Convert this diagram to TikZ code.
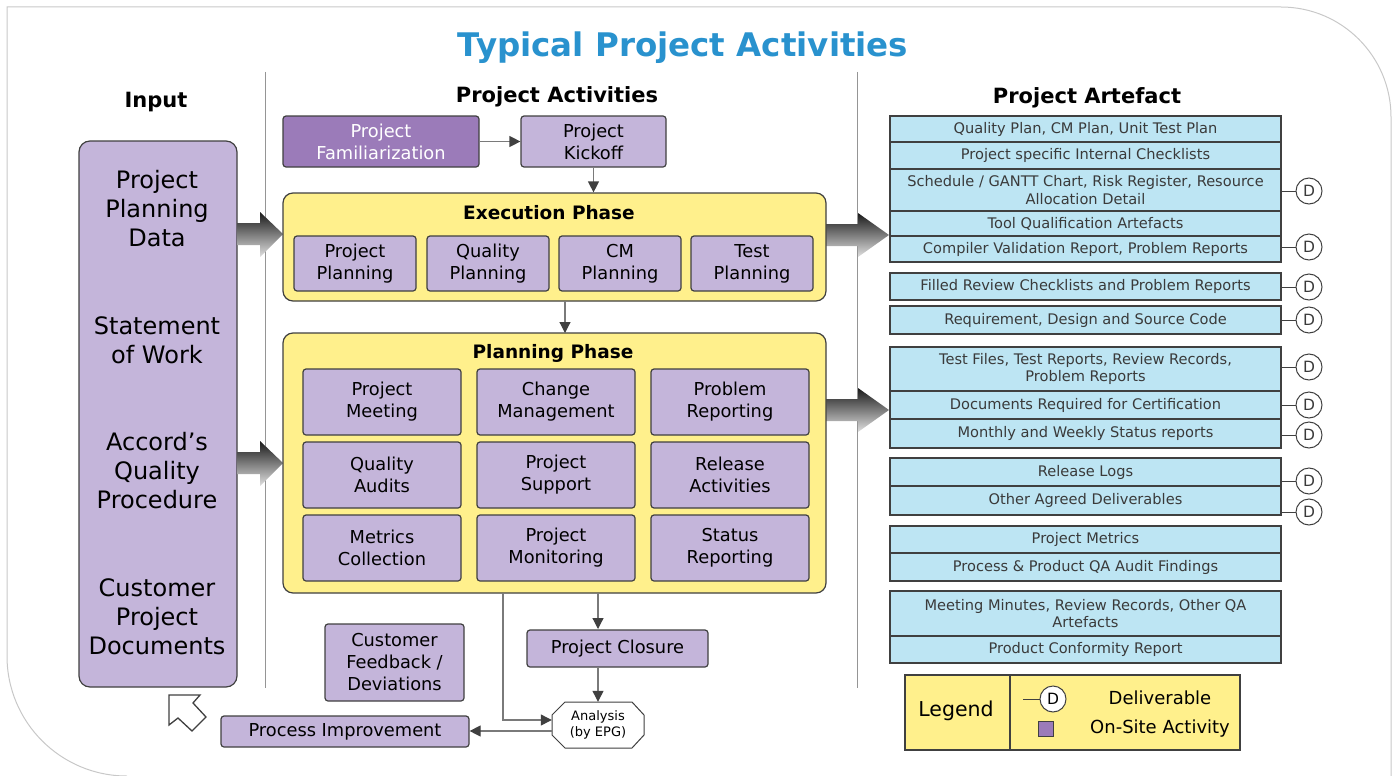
\documentclass[tikz,border=0pt]{standalone}
\usepackage{fontspec}
\setmainfont{DejaVu Sans}
\usetikzlibrary{arrows.meta}

\definecolor{edge}{HTML}{404040}
\definecolor{linegray}{HTML}{7A7A7A}
\definecolor{framegray}{HTML}{C8C8C8}
\definecolor{lav}{HTML}{C4B5DA}
\definecolor{lavdark}{HTML}{9B7BB9}
\definecolor{phaseyel}{HTML}{FFF08C}
\definecolor{artblue}{HTML}{BDE5F3}
\definecolor{titleblue}{HTML}{2992CE}
\definecolor{arttext}{HTML}{3A3A3A}

\tikzset{
  actbox/.style={draw=edge, line width=1.2pt, rounded corners=3pt, fill=lav,
    align=center, inner sep=0pt, font=\fontsize{17.8}{22}\selectfont},
  phasebox/.style={draw=edge, line width=1.2pt, rounded corners=10pt, fill=phaseyel, inner sep=0pt},
  phasetitle/.style={font=\fontsize{18.5}{22}\selectfont\bfseries},
  header/.style={font=\fontsize{21}{25}\selectfont\bfseries},
  inputtext/.style={align=center, font=\fontsize{24}{29}\selectfont},
  artbox/.style={draw=edge, line width=1.2pt, fill=artblue, minimum width=391pt,
    align=center, inner sep=0pt, text=arttext, font=\fontsize{14.6}{17.5}\selectfont},
  deliv/.style={circle, draw=edge, line width=1pt, fill=white, minimum size=26pt,
    inner sep=0pt, text=arttext, font=\fontsize{15.5}{15.5}\selectfont},
  dline/.style={draw=edge, line width=1pt},
  conn/.style={draw=linegray, line width=1.2pt, -{Triangle[length=11pt,width=11pt,color=edge]}},
  bigarrow/.style={top color=black!90, bottom color=black!12},
  sepline/.style={draw=linegray!80, line width=1pt}
}

\begin{document}
\begin{tikzpicture}[x=1pt,y=-1pt]
  \useasboundingbox (0,0) rectangle (1397,776);

  % outer frame
  \draw [framegray, line width=1pt] (1391,776) -- (1391,117) arc[start angle=0,end angle=-90,radius=110]
    -- (7,7) -- (7,656) arc[start angle=180,end angle=90,radius=120];

  % headings
  \node [font=\fontsize{32.5}{38}\selectfont\bfseries, text=titleblue] at (683,48) (Title) {Typical Project Activities};
  \node [header] at (156,102) (InHead)  {Input};
  \node [header] at (557,97)  (ActHead) {Project Activities};
  \node [header] at (1087,98) (ArtHead) {Project Artefact};

  \draw [sepline] (265,72) -- (265,688);
  \draw [sepline] (857,72) -- (857,688);

  % input column
  \node [draw=edge, line width=1.2pt, rounded corners=11pt, fill=lav, minimum width=158pt,
         minimum height=546pt, inner sep=0pt] at (158,414) (Input) {};
  \node [inputtext] at (157,209) (InPlan)  {Project\\Planning\\Data};
  \node [inputtext] at (157,340) (InSow)   {Statement\\of Work};
  \node [inputtext] at (157,471) (InQual)  {Accord’s\\Quality\\Procedure};
  \node [inputtext] at (157,617) (InCust)  {Customer\\Project\\Documents};

  % block arrows
  \shade [bigarrow] (237,223) -- (260,223) -- (260,212) -- (283,234) -- (260,257) -- (260,245) -- (237,245) -- cycle;
  \shade [bigarrow] (237,452) -- (260,452) -- (260,441) -- (283,463) -- (260,486) -- (260,474) -- (237,474) -- cycle;
  \shade [bigarrow] (826,224) -- (858,224) -- (858,213) -- (889,235) -- (858,257) -- (858,246) -- (826,246) -- cycle;
  \shade [bigarrow] (826,399) -- (858,399) -- (858,388) -- (889,410) -- (858,432) -- (858,421) -- (826,421) -- cycle;

  % top row
  \node [actbox, fill=lavdark, text=white, minimum width=196pt, minimum height=51pt] at (381,141.5) (Famil) {Project\\Familiarization};
  \node [actbox, minimum width=145pt, minimum height=51pt] at (593.5,141.5) (Kickoff) {Project\\Kickoff};
  \draw [conn] (Famil) -- (Kickoff);

  % execution phase
  \node [phasebox, minimum width=543pt, minimum height=108pt] at (554.5,247) (Exec) {};
  \node [phasetitle] at (549,213) (ExecTitle) {Execution Phase};
  \node [actbox, minimum width=122pt, minimum height=55pt] at (355,263.5) (ProjPlan) {Project\\Planning};
  \node [actbox, minimum width=122pt, minimum height=55pt] at (488,263.5) (QualPlan) {Quality\\Planning};
  \node [actbox, minimum width=122pt, minimum height=55pt] at (620,263.5) (CMPlan)   {CM\\Planning};
  \node [actbox, minimum width=122pt, minimum height=55pt] at (752,263.5) (TestPlan) {Test\\Planning};
  \draw [conn] (Kickoff.south) -- (Exec.north -| Kickoff.south);

  % planning phase
  \node [phasebox, minimum width=543pt, minimum height=260pt] at (554.5,463) (Planning) {};
  \node [phasetitle] at (553,353) (PlanTitle) {Planning Phase};
  \draw [conn] (565,301) -- (565,333);

  \node [actbox, minimum width=158pt, minimum height=66pt] at (382,402) (Meeting)  {Project\\Meeting};
  \node [actbox, minimum width=158pt, minimum height=66pt] at (556,402) (Change)   {Change\\Management};
  \node [actbox, minimum width=158pt, minimum height=66pt] at (730,402) (Problem)  {Problem\\Reporting};
  \node [actbox, minimum width=158pt, minimum height=66pt] at (382,475) (Audits)   {Quality\\Audits};
  \node [actbox, minimum width=158pt, minimum height=66pt] at (556,475) (Support)  {Project\\Support};
  \node [actbox, minimum width=158pt, minimum height=66pt] at (730,475) (Release)  {Release\\Activities};
  \node [actbox, minimum width=158pt, minimum height=66pt] at (382,548) (Metrics)  {Metrics\\Collection};
  \node [actbox, minimum width=158pt, minimum height=66pt] at (556,548) (Monitor)  {Project\\Monitoring};
  \node [actbox, minimum width=158pt, minimum height=66pt] at (730,548) (Status)   {Status\\Reporting};

  % closure and analysis
  \node [actbox, minimum width=181pt, minimum height=37pt] at (617.5,648.5) (Closure) {Project Closure};
  \node [actbox, minimum width=139pt, minimum height=77pt] at (394.5,662.5) (Feedback) {Customer\\Feedback /\\Deviations};
  \node [actbox, minimum width=248pt, minimum height=31pt] at (345,731.5) (Improve) {Process Improvement};
  \draw [edge, line width=1pt, fill=white] (565,702) -- (632,702) -- (644,715) -- (644,735) -- (632,748)
    -- (565,748) -- (552,735) -- (552,715) -- cycle;
  \node [minimum width=92pt, minimum height=46pt, inner sep=0pt, align=center,
         font=\fontsize{13}{15.5}\selectfont] at (598,725) (Analysis) {Analysis\\(by EPG)};

  \draw [conn] (598,593) -- (598,629);
  \draw [conn] (Closure.south -| 598,0) -- (Analysis.north);
  \draw [conn] (503,593) -- (503,720) -- (Analysis.west |- 0,720);
  \draw [conn] (Analysis.west |- 0,731) -- (Improve.east |- 0,731);

  % hollow arrow
  \draw [edge, line width=1.3pt, fill=white] (169,695) -- (200,695) -- (193,703) -- (206,717)
    -- (192,731) -- (178,718) -- (169,725) -- cycle;

  % artefacts
  \node [artbox, minimum height=26pt] at (1085.5,129)   (QPlan)    {Quality Plan, CM Plan, Unit Test Plan};
  \node [artbox, minimum height=27pt] at (1085.5,155.5) (Checks)   {Project specific Internal Checklists};
  \node [artbox, minimum height=42pt] at (1085.5,190)   (Sched)    {Schedule / GANTT Chart, Risk Register, Resource\\Allocation Detail};
  \node [artbox, minimum height=25pt] at (1085.5,223.5) (ToolQ)    {Tool Qualification Artefacts};
  \node [artbox, minimum height=26pt] at (1085.5,249)   (Compiler) {Compiler Validation Report, Problem Reports};
  \node [artbox, minimum height=27pt] at (1085.5,286.5) (Filled)   {Filled Review Checklists and Problem Reports};
  \node [artbox, minimum height=28pt] at (1085.5,320)   (ReqDes)   {Requirement, Design and Source Code};
  \node [artbox, minimum height=44pt] at (1085.5,369)   (TestF)    {Test Files, Test Reports, Review Records,\\Problem Reports};
  \node [artbox, minimum height=28pt] at (1085.5,405)   (DocsCert) {Documents Required for Certification};
  \node [artbox, minimum height=29pt] at (1085.5,433.5) (Monthly)  {Monthly and Weekly Status reports};
  \node [artbox, minimum height=28pt] at (1085.5,472)   (RelLogs)  {Release Logs};
  \node [artbox, minimum height=29pt] at (1085.5,500.5) (OtherDel) {Other Agreed Deliverables};
  \node [artbox, minimum height=27pt] at (1085.5,539.5) (PMetrics) {Project Metrics};
  \node [artbox, minimum height=28pt] at (1085.5,567)   (QAFind)   {Process \& Product QA Audit Findings};
  \node [artbox, minimum height=45pt] at (1085.5,613.5) (Minutes)  {Meeting Minutes, Review Records, Other QA\\Artefacts};
  \node [artbox, minimum height=27pt] at (1085.5,649.5) (Conform)  {Product Conformity Report};

  % deliverable markers
  \node [deliv] at (1309,191) (D1) {D};
  \node [deliv] at (1309,247) (D2) {D};
  \node [deliv] at (1309,287) (D3) {D};
  \node [deliv] at (1309,320) (D4) {D};
  \node [deliv] at (1309,367) (D5) {D};
  \node [deliv] at (1309,405) (D6) {D};
  \node [deliv] at (1309,435) (D7) {D};
  \node [deliv] at (1309,481) (D8) {D};
  \node [deliv] at (1309,512) (D9) {D};
  \draw [dline] (D1) -- (D1 -| Sched.east);
  \draw [dline] (D2) -- (D2 -| Compiler.east);
  \draw [dline] (D3) -- (D3 -| Filled.east);
  \draw [dline] (D4) -- (D4 -| ReqDes.east);
  \draw [dline] (D5) -- (D5 -| TestF.east);
  \draw [dline] (D6) -- (D6 -| DocsCert.east);
  \draw [dline] (D7) -- (D7 -| Monthly.east);
  \draw [dline] (D8) -- (D8 -| RelLogs.east);
  \draw [dline] (D9) -- (D9 -| OtherDel.east);

  % legend
  \node [draw=edge, line width=1.2pt, fill=phaseyel, minimum width=335pt, minimum height=75pt,
         inner sep=0pt] at (1072.5,712.5) (Legend) {};
  \draw [edge, line width=1.2pt] (1010,675) -- (1010,750);
  \node [font=\fontsize{20.5}{24}\selectfont] at (956,711) (LegText) {Legend};
  \node [deliv, text=black] at (1053,699) (LegD) {D};
  \coordinate (LegDStart) at (1023,699);
  \draw [dline] (LegDStart) -- (LegD);
  \node [draw=edge, line width=1pt, fill=lavdark, minimum size=15pt, inner sep=0pt] at (1046,729) (LegSq) {};
  \node [font=\fontsize{18}{21}\selectfont] at (1160,698) (LegDel) {Deliverable};
  \node [font=\fontsize{18}{21}\selectfont] at (1160,729) (LegSite) {On-Site Activity};
\end{tikzpicture}
\end{document}
